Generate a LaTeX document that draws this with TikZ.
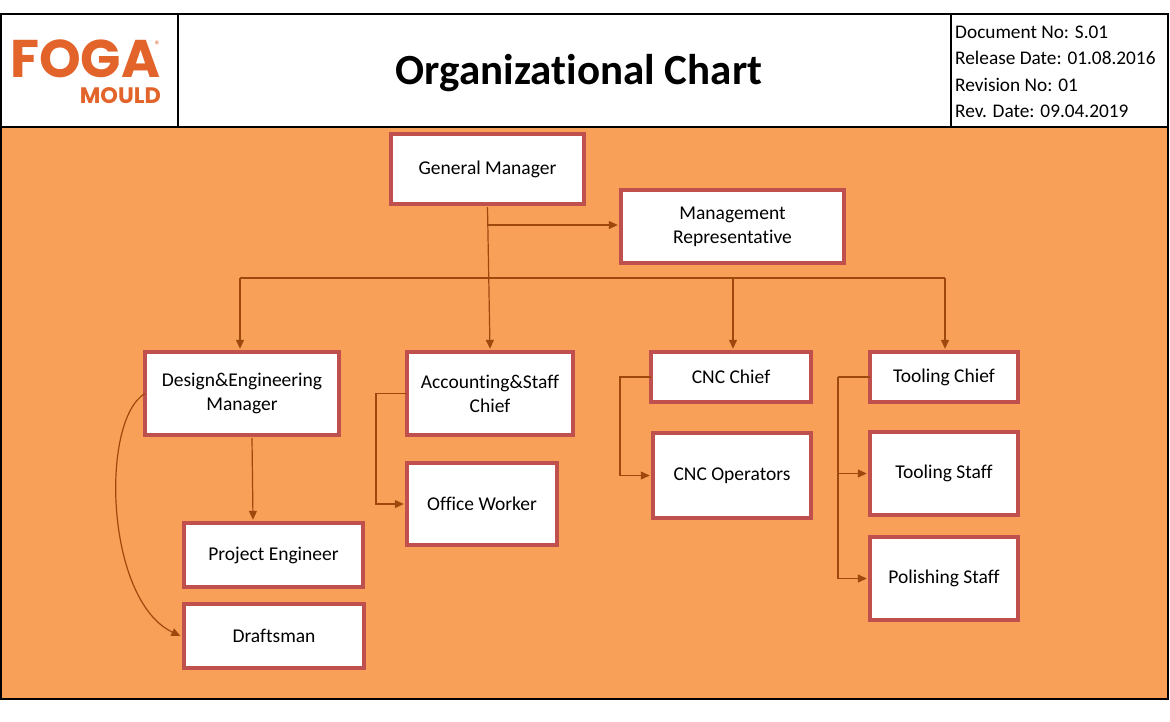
\documentclass[tikz,border=0pt]{standalone}
\usepackage{fontspec}
\setmainfont{Carlito}[Ligatures=NoCommon]
\newfontfamily\logofont{Poppins}
\usetikzlibrary{arrows.meta}
\definecolor{bgorange}{RGB}{248,160,88}
\definecolor{boxred}{RGB}{192,80,77}
\definecolor{linebrown}{RGB}{158,72,14}
\definecolor{logoorange}{RGB}{226,100,42}
\tikzset{
  orgbox/.style={draw=boxred, line width=3.2pt, fill=white, align=center, font=\fontsize{19.5}{24}\selectfont, inner sep=0pt},
  conn/.style={draw=linebrown, line width=1.2pt},
  arr/.style={conn, -{Triangle[length=9pt,width=8pt]}},
  infotext/.style={anchor=west, font=\fontsize{19.3}{20}\selectfont, inner sep=0pt},
}
\begin{document}
\begin{tikzpicture}[x=1pt,y=-1pt]
\useasboundingbox (0,0) rectangle (1170,721);
\fill[white] (0,0) rectangle (1170,721);
% orange area
\draw[fill=bgorange, line width=1.5pt] (0.75,127) rectangle (1168,699);
% header
\draw[line width=1.5pt] (0.75,14) rectangle (1168,127);
\draw[line width=1.5pt] (178,14) -- (178,127);
\draw[line width=1.5pt] (951,14) -- (951,127);
% logo
\node[anchor=base west, inner sep=0pt, text=logoorange, font=\logofont\bfseries\fontsize{53}{53}\selectfont] (foga) at (10,77) {FOGA};
\node[inner sep=0pt, text=logoorange, font=\logofont\fontsize{9}{9}\selectfont] (reg) at (157,44) {®};
\node[anchor=base east, inner sep=0pt, text=logoorange, font=\logofont\bfseries\fontsize{22.4}{22}\selectfont] (mould) at (161,103) {MOULD};
% title
\node[font=\bfseries\fontsize{43}{46}\selectfont, inner sep=0pt] (title) at (579,73) {Organizational Chart};
% info
\node[infotext] (i1) at (955,32) {Document No: S.01};
\node[infotext] (i2) at (955,58) {Release Date: 01.08.2016};
\node[infotext] (i3) at (955,85) {Revision No: 01};
\node[infotext] (i4) at (955,111) {Rev. Date: 09.04.2019};
% boxes
\node[orgbox, minimum width=193pt, minimum height=70pt] (gm) at (487.5,169) {General Manager};
\node[orgbox, minimum width=223pt, minimum height=73pt] (mr) at (732.5,226.5) {Management\\Representative};
\node[orgbox, minimum width=194pt, minimum height=83pt] (dem) at (242,393.5) {Design\&Engineering\\Manager};
\node[orgbox, minimum width=166pt, minimum height=83pt] (acc) at (490,393.5) {Accounting\&Staff\\Chief};
\node[orgbox, minimum width=160pt, minimum height=50pt] (cnc) at (731,377) {CNC Chief};
\node[orgbox, minimum width=148pt, minimum height=50pt] (tc) at (944,377) {Tooling Chief};
\node[orgbox, minimum width=179pt, minimum height=64pt] (pe) at (273.5,555) {Project Engineer};
\node[orgbox, minimum width=180pt, minimum height=64pt] (dr) at (274,636) {Draftsman};
\node[orgbox, minimum width=150pt, minimum height=82pt] (ow) at (482,504) {Office Worker};
\node[orgbox, minimum width=158pt, minimum height=85pt] (co) at (732,475.5) {CNC Operators};
\node[orgbox, minimum width=148pt, minimum height=83pt] (ts) at (944,473.5) {Tooling Staff};
\node[orgbox, minimum width=148pt, minimum height=83pt] (ps) at (944,578.5) {Polishing Staff};
% connectors
\coordinate (mrsrc) at (487,225);
\coordinate (b1) at (240,278);
\coordinate (b3) at (733,278);
\coordinate (b4) at (945,278);
\draw[arr] ([yshift=-1.6pt]gm.south) -- ([yshift=1.6pt]acc.north);
\draw[arr] (mrsrc) -- ([xshift=-1.6pt]mr.west |- mrsrc);
\draw[conn] (b1) -- (b4);
\draw[arr] (b1) -- ([yshift=1.6pt]b1 |- dem.north);
\draw[arr] (b3) -- ([yshift=1.6pt]b3 |- cnc.north);
\draw[arr] (b4) -- ([yshift=1.6pt]b4 |- tc.north);
\draw[arr] ([xshift=10pt,yshift=-1.6pt]dem.south) -- ([xshift=-20.5pt,yshift=1.6pt]pe.north);
\draw[arr] ([xshift=1.6pt]dem.west) .. controls (100,420) and (105,600) .. ([xshift=-2pt]dr.west);
\draw[arr] ([xshift=1.6pt]acc.west) -- (376,393.5) |- ([xshift=-1.6pt]ow.west);
\draw[arr] ([xshift=1.6pt]cnc.west) -- (620,377) |- ([xshift=-1.6pt]co.west);
\coordinate (tt) at (838,377);
\draw[conn] ([xshift=1.6pt]tc.west) -- (tt);
\draw[arr] (tt) |- ([xshift=-1.6pt]ts.west);
\draw[arr] (tt) |- ([xshift=-1.6pt]ps.west);
\end{tikzpicture}
\end{document}
